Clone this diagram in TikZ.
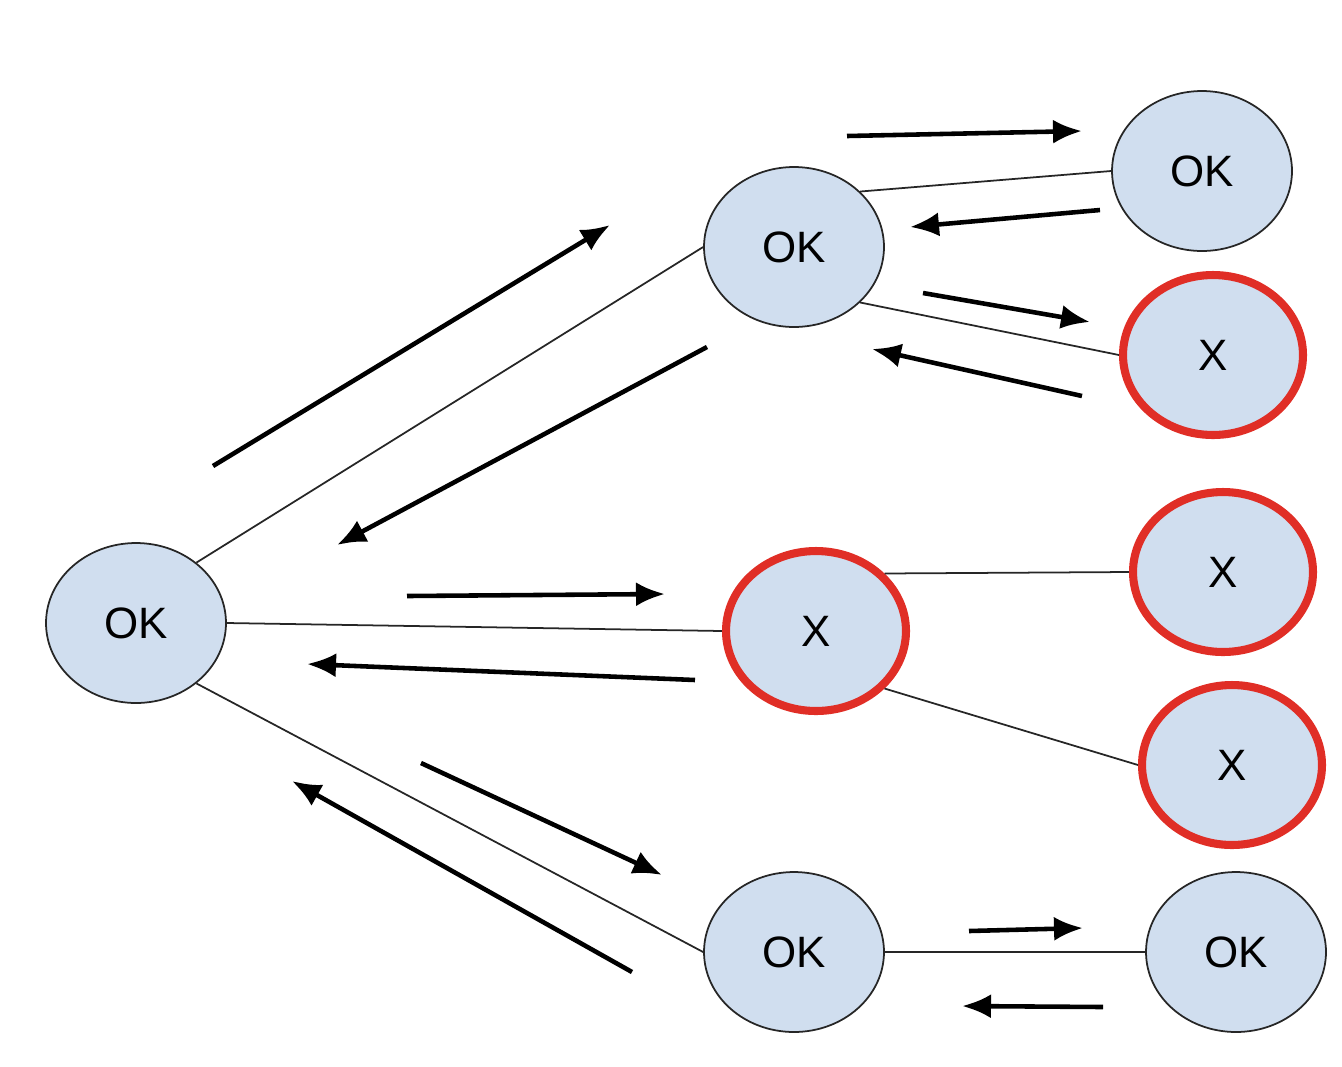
\documentclass[tikz,border=0pt]{standalone}
\usepackage{fontspec}
\setmainfont{Liberation Sans}
\usepackage{tikz}
\usetikzlibrary{shapes.geometric, arrows.meta}
\definecolor{bleuclair}{RGB}{208,222,239}
\definecolor{rougeX}{RGB}{224,46,38}

\begin{document}
\begin{tikzpicture}[x=0.02cm, y=-0.02cm,
  etat/.style={ellipse, draw=black!85, line width=1pt, fill=bleuclair,
    minimum width=3.6cm, minimum height=3.2cm, inner sep=0pt,
    font=\fontsize{25}{30}\selectfont},
  echec/.style={etat, draw=rougeX, line width=4.6pt},
  lien/.style={line width=1pt, black!85},
  fleche/.style={line width=2.6pt, -{Latex[length=5.8mm, width=4.8mm]}}]
  \useasboundingbox (0,0) rectangle (1342,1066);

  % Noeuds
  \node[etat]  (racine)  at (136,623)  {OK};
  \node[etat]  (hautOK)  at (794,247)  {OK};
  \node[echec] (milieuX) at (816,631)  {X};
  \node[etat]  (basOK)   at (794,952)  {OK};
  \node[etat]  (feuilleOKa) at (1202,171) {OK};
  \node[echec] (feuilleXa)  at (1213,355) {X};
  \node[echec] (feuilleXb)  at (1223,572) {X};
  \node[echec] (feuilleXc)  at (1232,765) {X};
  \node[etat]  (feuilleOKb) at (1236,952) {OK};

  % Liens
  \draw[lien] (racine.45) -- (hautOK.west);
  \draw[lien] (racine.east) -- (milieuX.west);
  \draw[lien] (racine.-45) -- (basOK.west);
  \draw[lien] (hautOK.40) -- (feuilleOKa.west);
  \draw[lien] (hautOK.-40) -- (feuilleXa.west);
  \draw[lien] (milieuX.40) -- (feuilleXb.west);
  \draw[lien] (milieuX.-40) -- (feuilleXc.west);
  \draw[lien] (basOK.east) -- (feuilleOKb.west);

  % Flèches (aller / retour)
  \coordinate (d1) at (213,466);  \coordinate (a1) at (610,225);
  \coordinate (d2) at (707,347);  \coordinate (a2) at (337,545);
  \coordinate (d3) at (407,596);  \coordinate (a3) at (665,594);
  \coordinate (d4) at (695,680);  \coordinate (a4) at (307,664);
  \coordinate (d5) at (421,763);  \coordinate (a5) at (662,875);
  \coordinate (d6) at (632,972);  \coordinate (a6) at (292,781);
  \coordinate (d7) at (847,136);  \coordinate (a7) at (1082,131);
  \coordinate (d8) at (1100,210); \coordinate (a8) at (910,227);
  \coordinate (d9) at (923,293);  \coordinate (a9) at (1090,322);
  \coordinate (d10) at (1082,396); \coordinate (a10) at (872,349);
  \coordinate (d11) at (969,931); \coordinate (a11) at (1083,928);
  \coordinate (d12) at (1103,1007); \coordinate (a12) at (962,1006);
  \foreach \i in {1,...,12}
    \draw[fleche] (d\i) -- (a\i);
\end{tikzpicture}
\end{document}
